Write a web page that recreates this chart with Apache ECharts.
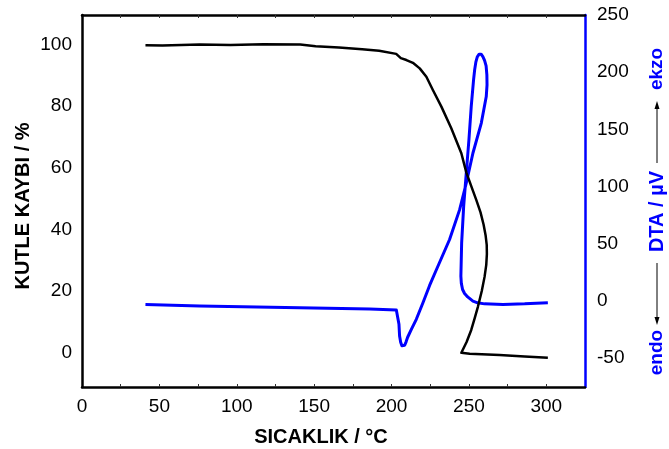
<!DOCTYPE html>
<html>
<head>
<meta charset="utf-8">
<script src="https://cdn.jsdelivr.net/npm/echarts@6/dist/echarts.min.js"></script>
<style>
  html, body { margin: 0; padding: 0; background: #fff; }
  #chart { width: 669px; height: 449px; }
</style>
</head>
<body>
<div id="chart"></div>
<script>
// TG (kutle kaybi) - sicaklik / %
const tgTemp = [41, 52, 76, 96, 117, 141, 151, 166, 181, 192, 203, 206, 209.6, 213.8, 218.2, 222.5, 226.7, 232.2, 238.6, 245.1, 248.3, 251.5, 254.8, 257.5, 259.5, 260.8, 261.5, 261.6, 261.2, 260.1, 258.3, 255.8, 253.6, 251.5, 248.5, 245.1, 250.5, 269.8, 286, 301];
const tgMass = [99.7, 99.6, 99.9, 99.8, 100, 99.9, 99.4, 99.0, 98.4, 97.9, 96.9, 95.5, 94.9, 94.0, 92.2, 89.5, 85.2, 79.8, 72.8, 64.7, 58.5, 54, 49.5, 45.5, 41.5, 38, 35, 32, 28.5, 24.6, 20, 14.9, 11, 7.4, 3.5, 0, -0.3, -0.7, -1.2, -1.6];

// DTA - sicaklik / µV
const dtaTemp = [41, 76, 140.6, 185.9, 203.1, 204.3, 204.8, 205.2, 205.9, 206.7, 207.5, 208.5, 209.4, 210.4, 212.8, 216.0, 220.3, 224.6, 228.9, 237.5, 244.0, 248.3, 252.6, 258.0, 261.2, 261.7, 261.6, 261.1, 260.1, 259.0, 257.9, 256.6, 255.4, 254.5, 253.7, 253.0, 251.5, 250.0, 248.3, 246.6, 245.3, 244.8, 245.1, 245.9, 247.2, 249.2, 252.6, 255.6, 260.1, 272.0, 286.0, 301.0];
const dtaVal = [-3.1, -4.4, -6.1, -7.2, -8.0, -9.2, -20.5, -30.7, -36.2, -39.3, -40.0, -38.8, -35.8, -31.8, -24.9, -16.1, -1.6, 13.5, 27.0, 53.7, 79.8, 103.1, 129.3, 155.5, 178.7, 188.9, 197.6, 205.5, 210.3, 213.6, 215.7, 215.7, 213.4, 209.0, 202.0, 193.3, 170.0, 140.9, 111.9, 82.7, 50.8, 21.6, 15.3, 10.0, 6.5, 3.5, -0.2, -1.7, -2.6, -3.1, -2.6, -1.6];

const xLabels = [0, 50, 100, 150, 200, 250, 300];
const xTicks = [25, 50, 75, 100, 125, 150, 175, 200, 225, 250, 275, 300];
const leftLabels = [0, 20, 40, 60, 80, 100];
const rightLabels = [-50, 0, 50, 100, 150, 200, 250];

const FONT = '"Liberation Sans", Arial, sans-serif';
const BLUE = '#0000ff';

const zip = (a, b) => a.map((v, i) => [v, b[i]]);

const chart = echarts.init(document.getElementById('chart'));

const rotText = (text, x, y, size, color) => ({
    type: 'text', x: x, y: y, rotation: Math.PI / 2,
    style: { text: text, fill: color, font: 'bold ' + size + 'px ' + FONT, align: 'center', verticalAlign: 'middle' }
});

chart.setOption({
    animation: false,
    backgroundColor: '#fff',
    grid: { left: 82, right: 84, top: 15, bottom: 62, containLabel: false },
    xAxis: [
        {
            type: 'value', min: 0, max: 325, position: 'bottom',
            axisLine: { show: true, onZero: false, lineStyle: { color: '#000', width: 2.5 } },
            axisTick: { show: true, inside: true, length: 3, customValues: xTicks, lineStyle: { color: '#333', width: 1 } },
            axisLabel: { customValues: xLabels, color: '#000', fontSize: 19, fontFamily: FONT, margin: 10 },
            splitLine: { show: false }
        },
        {
            type: 'value', min: 0, max: 325, position: 'top',
            axisLine: { show: true, onZero: false, lineStyle: { color: '#000', width: 2.5 } },
            axisTick: { show: true, inside: true, length: 3, customValues: xTicks, lineStyle: { color: '#333', width: 1 } },
            axisLabel: { show: false },
            splitLine: { show: false }
        }
    ],
    yAxis: [
        {
            type: 'value', min: -11.1, max: 109.5, position: 'left',
            axisLine: { show: true, onZero: false, lineStyle: { color: '#000', width: 2.5 } },
            axisTick: { show: false },
            axisLabel: { customValues: leftLabels, color: '#000', fontSize: 19, fontFamily: FONT, margin: 10 },
            splitLine: { show: false }
        },
        {
            type: 'value', min: -75.3, max: 250, position: 'right',
            axisLine: { show: true, onZero: false, lineStyle: { color: BLUE, width: 2.5 } },
            axisTick: { show: false },
            axisLabel: { customValues: rightLabels, color: '#000', fontSize: 19, fontFamily: FONT, margin: 12 },
            splitLine: { show: false }
        }
    ],
    series: [
        {
            name: 'DTA', type: 'line', xAxisIndex: 0, yAxisIndex: 1,
            data: zip(dtaTemp, dtaVal), showSymbol: false,
            lineStyle: { color: BLUE, width: 3, join: 'round' }
        },
        {
            name: 'TG', type: 'line', xAxisIndex: 0, yAxisIndex: 0,
            data: zip(tgTemp, tgMass), showSymbol: false,
            lineStyle: { color: '#000', width: 2.5, join: 'round' }
        }
    ],
    graphic: [
        rotText('KUTLE KAYBI / %', 23, 206, 20, '#000'),
        { type: 'text', x: 321, y: 437, style: { text: 'SICAKLIK / °C', fill: '#000', font: 'bold 20px ' + FONT, align: 'center', verticalAlign: 'middle' } },
        rotText('ekzo', 657, 69, 19, BLUE),
        rotText('DTA / µV', 657, 211.5, 20, BLUE),
        rotText('endo', 657, 352.5, 19, BLUE),
        { type: 'line', shape: { x1: 657, y1: 108, x2: 657, y2: 163 }, style: { stroke: '#000', lineWidth: 1 } },
        { type: 'polygon', shape: { points: [[657, 101], [654.5, 109], [659.5, 109]] }, style: { fill: '#000' } },
        { type: 'line', shape: { x1: 657, y1: 263, x2: 657, y2: 318 }, style: { stroke: '#000', lineWidth: 1 } },
        { type: 'polygon', shape: { points: [[657, 325], [654.5, 317], [659.5, 317]] }, style: { fill: '#000' } }
    ]
});
</script>
</body>
</html>
